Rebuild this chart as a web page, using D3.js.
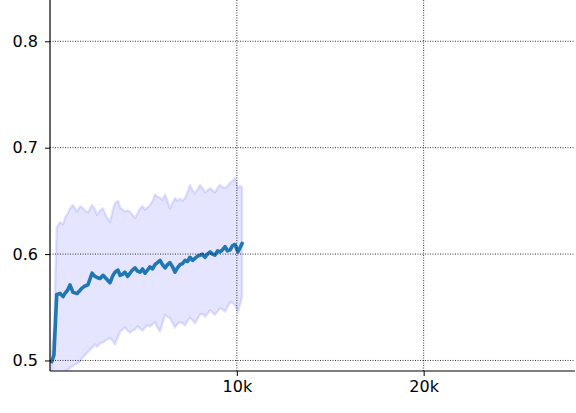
<!DOCTYPE html>
<html>
<head>
<meta charset="utf-8">
<script src="https://cdn.jsdelivr.net/npm/d3@7"></script>
<style>
  body { margin: 0; background: #fff; }
  svg { display: block; font-family: "DejaVu Sans", sans-serif; }
</style>
</head>
<body>
<svg id="grafico" width="576" height="413"></svg>
<script>
// passos de treino (em unidades de passo)
var passos = [90, 210, 360, 540, 700, 800, 940, 1070, 1230, 1450, 1610, 1710, 1870, 2030, 2250, 2410, 2520, 2680, 2840, 3000,
  3210, 3370, 3480, 3640, 3750, 3880, 4010, 4150, 4280, 4410, 4550, 4680, 4820, 4950, 5090, 5220, 5350, 5490, 5620, 5750,
  5890, 6020, 6160, 6290, 6420, 6560, 6690, 6820, 6960, 7090, 7230, 7360, 7490, 7630, 7760, 7900, 8030, 8160, 8300, 8430,
  8570, 8700, 8830, 8970, 9100, 9230, 9370, 9500, 9640, 9770, 9900, 10060, 10170, 10280];

var media = [0.499, 0.505, 0.562, 0.563, 0.560, 0.563, 0.566, 0.571, 0.564, 0.563, 0.566, 0.568, 0.570, 0.571, 0.582, 0.579, 0.578, 0.577, 0.580, 0.577,
  0.573, 0.580, 0.583, 0.585, 0.580, 0.581, 0.583, 0.579, 0.582, 0.585, 0.587, 0.584, 0.583, 0.586, 0.582, 0.585, 0.588, 0.586, 0.590, 0.592,
  0.594, 0.590, 0.587, 0.590, 0.592, 0.588, 0.583, 0.587, 0.590, 0.591, 0.594, 0.593, 0.597, 0.594, 0.596, 0.598, 0.599, 0.600, 0.597, 0.600,
  0.602, 0.600, 0.599, 0.603, 0.602, 0.604, 0.607, 0.603, 0.604, 0.608, 0.609, 0.602, 0.606, 0.610];

var superior = [0.510, 0.530, 0.625, 0.630, 0.628, 0.634, 0.638, 0.643, 0.646, 0.640, 0.645, 0.644, 0.641, 0.639, 0.646, 0.642, 0.637, 0.641, 0.643, 0.636,
  0.630, 0.642, 0.648, 0.650, 0.644, 0.642, 0.640, 0.641, 0.640, 0.637, 0.634, 0.638, 0.643, 0.645, 0.642, 0.644, 0.646, 0.650, 0.656, 0.654,
  0.653, 0.651, 0.656, 0.650, 0.643, 0.648, 0.653, 0.650, 0.652, 0.650, 0.653, 0.658, 0.665, 0.660, 0.657, 0.661, 0.665, 0.662, 0.658, 0.660,
  0.662, 0.660, 0.658, 0.662, 0.665, 0.663, 0.662, 0.664, 0.667, 0.669, 0.672, 0.662, 0.664, 0.663];

var inferior = [0.489, 0.489, 0.488, 0.487, 0.489, 0.490, 0.491, 0.493, 0.495, 0.497, 0.499, 0.502, 0.505, 0.508, 0.512, 0.515, 0.513, 0.516, 0.517, 0.519,
  0.521, 0.518, 0.515, 0.522, 0.527, 0.529, 0.531, 0.528, 0.526, 0.528, 0.529, 0.532, 0.530, 0.528, 0.531, 0.533, 0.532, 0.534, 0.536, 0.531,
  0.527, 0.535, 0.543, 0.541, 0.540, 0.535, 0.531, 0.534, 0.536, 0.535, 0.533, 0.537, 0.540, 0.538, 0.535, 0.539, 0.543, 0.544, 0.541, 0.544,
  0.547, 0.545, 0.543, 0.546, 0.549, 0.548, 0.546, 0.550, 0.555, 0.554, 0.552, 0.546, 0.552, 0.560];

var ticksX = [10000, 20000];
var rotulosX = ["10k", "20k"];
var ticksY = [0.5, 0.6, 0.7, 0.8];

var svg = d3.select("#grafico");
var esq = 50, dir = 575, topo = 0, base = 371;

var x = d3.scaleLinear().domain([0, 28100]).range([esq, dir]);
var y = d3.scaleLinear().domain([0.4901, 0.8388]).range([base, topo]);

var dados = passos.map(function (p, i) {
  return { p: p, m: media[i], s: superior[i], f: inferior[i] };
});

svg.append("defs").append("clipPath").attr("id", "recorte")
  .append("rect").attr("x", esq).attr("y", topo).attr("width", dir - esq).attr("height", base - topo);

var area = svg.append("g").attr("clip-path", "url(#recorte)");

// faixa de variacao
area.append("path")
  .datum(dados)
  .attr("d", d3.area().x(d => x(d.p)).y0(d => y(d.f)).y1(d => y(d.s)))
  .attr("fill", "rgb(0,0,255)")
  .attr("fill-opacity", 0.1)
  .attr("stroke", "rgb(0,0,255)")
  .attr("stroke-opacity", 0.1)
  .attr("stroke-width", 2.5)
  .attr("stroke-linejoin", "round");

// grade
var grade = svg.append("g");
ticksY.forEach(function (t) {
  grade.append("line")
    .attr("x1", esq).attr("x2", dir).attr("y1", y(t)).attr("y2", y(t))
    .attr("stroke", "#000").attr("stroke-width", 0.8).attr("stroke-dasharray", "1,1.5");
});
ticksX.forEach(function (t) {
  grade.append("line")
    .attr("x1", x(t)).attr("x2", x(t)).attr("y1", topo).attr("y2", base)
    .attr("stroke", "#000").attr("stroke-width", 0.8).attr("stroke-dasharray", "1,1.5");
});

// linha da media
area.append("path")
  .datum(dados)
  .attr("d", d3.line().x(d => x(d.p)).y(d => y(d.m)))
  .attr("fill", "none")
  .attr("stroke", "#1f77b4")
  .attr("stroke-width", 3.6)
  .attr("stroke-linejoin", "round")
  .attr("stroke-linecap", "round");

// eixos
var eixoX = svg.append("g")
  .attr("transform", "translate(0," + base + ")")
  .call(d3.axisBottom(x).tickValues(ticksX).tickFormat((d, i) => rotulosX[i]).tickSize(5).tickPadding(5));
var eixoY = svg.append("g")
  .attr("transform", "translate(" + esq + ",0)")
  .call(d3.axisLeft(y).tickValues(ticksY).tickFormat(d3.format(".1f")).tickSize(5).tickPadding(7));

[eixoX, eixoY].forEach(function (e) {
  e.select(".domain").attr("stroke", "#000").attr("stroke-width", 1.2);
  e.selectAll(".tick line").attr("stroke", "#000").attr("stroke-width", 1);
  e.selectAll(".tick text").attr("fill", "#000").style("font-size", "16px").style("font-family", "DejaVu Sans");
});
eixoX.select(".domain").attr("d", "M" + esq + ",0H" + dir);
eixoY.select(".domain").attr("d", "M0," + base + "V" + topo);
</script>
</body>
</html>
